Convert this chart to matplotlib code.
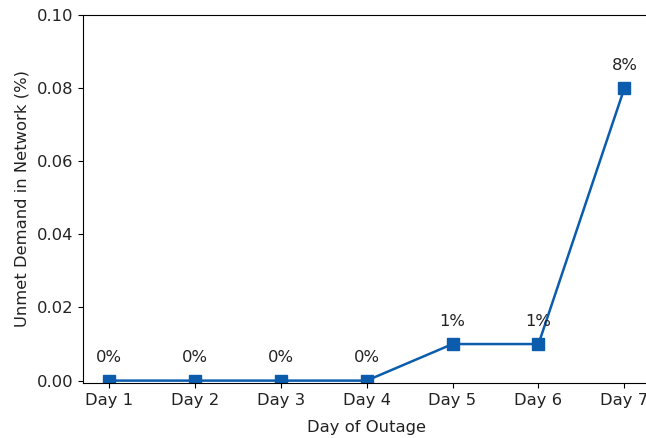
import matplotlib
matplotlib.use('Agg')
import matplotlib.pyplot as plt

days = ['Day 1', 'Day 2', 'Day 3', 'Day 4', 'Day 5', 'Day 6', 'Day 7']
unmet = [0.0, 0.0, 0.0, 0.0, 0.01, 0.01, 0.08]
labels = ['0%', '0%', '0%', '0%', '1%', '1%', '8%']

plt.rcParams['font.size'] = 11.8
plt.rcParams['text.color'] = '#222222'
plt.rcParams['axes.labelcolor'] = '#222222'
plt.rcParams['xtick.labelcolor'] = '#222222'
plt.rcParams['ytick.labelcolor'] = '#222222'

fig = plt.figure(figsize=(6.46, 4.38), dpi=100)
ax = fig.add_axes([0.1285, 0.126, 0.878, 0.84])

x = list(range(len(days)))
ax.plot(x, unmet, marker='s', color='#0b5cad', linewidth=1.8, markersize=8.4)

for xi, yi, lab in zip(x, unmet, labels):
    ax.annotate(lab, (xi, yi), xytext=(0, 11), textcoords='offset points',
                ha='center', va='bottom')

ax.set_xticks(x)
ax.set_xticklabels(days)
ax.set_xlim(-0.3, 6.3)
ax.set_ylim(-0.0006, 0.1)
ax.set_yticks([0.0, 0.02, 0.04, 0.06, 0.08, 0.10])
ax.set_yticklabels(['0.00', '0.02', '0.04', '0.06', '0.08', '0.10'])
ax.set_xlabel('Day of Outage', labelpad=2)
ax.xaxis.set_label_coords(0.5, -0.1)
ax.set_ylabel('Unmet Demand in Network (%)', labelpad=5)

fig.savefig('out.png', dpi=100)
